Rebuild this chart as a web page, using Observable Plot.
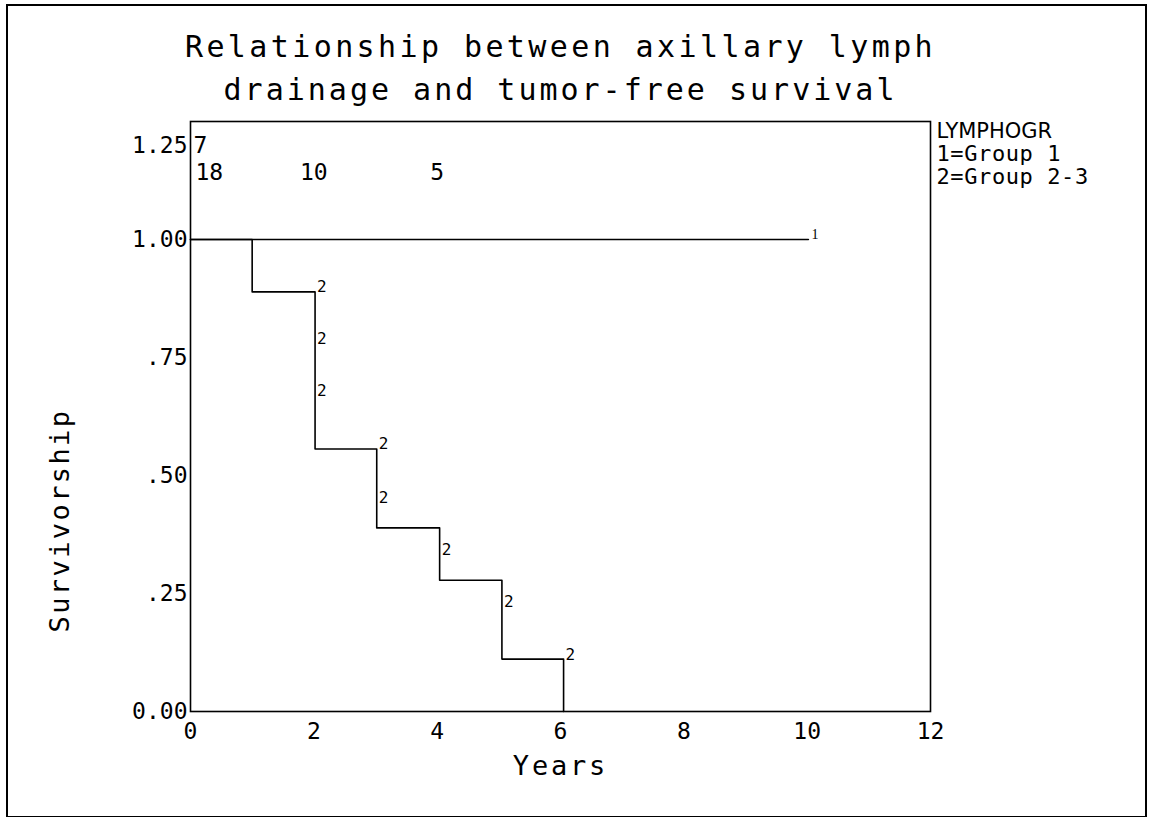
<!DOCTYPE html>
<html>
<head>
<meta charset="utf-8">
<script src="https://cdn.jsdelivr.net/npm/d3@7"></script>
<script src="https://cdn.jsdelivr.net/npm/@observablehq/plot@0.6"></script>
<style>
  html, body { margin: 0; padding: 0; background: #fff; }
  #wrap { position: relative; width: 1150px; height: 818px; overflow: hidden; }
  #outer { position: absolute; left: 6px; top: 4px; width: 1137px; height: 810px; border: 2px solid #000; border-bottom-width: 1px; pointer-events: none; }
  #chart { position: absolute; left: 0; top: 0; }
</style>
</head>
<body>
<div id="wrap">
  <div id="chart"></div>
  <div id="outer"></div>
</div>
<script>
// ---- data ----
const titleLines = ["Relationship between axillary lymph", "drainage and tumor-free survival"];
const xLabel = "Years";
const yLabel = "Survivorship";
const legendTitle = "LYMPHOGR";
const legendLines = ["1=Group 1", "2=Group 2-3"];

const xTickValues = [0, 2, 4, 6, 8, 10, 12];
const yTickValues = [0, 0.25, 0.5, 0.75, 1.0];
const yTickLabels = ["0.00", ".25", ".50", ".75", "1.00"];
const yTopTick = 1.25;
const yTopLabel = "1.25";

// group 1 (never drops)
const group1Times = [0, 10.02];
const group1Surv = [1, 1];
const group1MarkTimes = [10.02];
const group1MarkSurv = [1.0];

// group 2 step curve
const group2Times = [0, 1.0, 2.02, 3.02, 4.04, 5.05, 6.05];
const group2Surv = [1, 0.889, 0.556, 0.389, 0.278, 0.111, 0];
// plotted group symbols "2"
const group2MarkTimes = [2.02, 2.02, 2.02, 3.02, 3.02, 4.04, 5.05, 6.05];
const group2MarkSurv = [0.900, 0.790, 0.680, 0.568, 0.453, 0.343, 0.233, 0.121];

// numbers at risk
const riskTimes = [0, 2, 4];
const riskCounts = ["18", "10", "5"];
const group1Risk = "7";

// ---- build tables ----
const g1 = group1Times.map((t, i) => ({t, s: group1Surv[i]}));
const g2 = group2Times.map((t, i) => ({t, s: group2Surv[i]}));
const m1 = group1MarkTimes.map((t, i) => ({t, s: group1MarkSurv[i], g: "1"}));
const m2 = group2MarkTimes.map((t, i) => ({t, s: group2MarkSurv[i], g: "2"}));
const risk = riskTimes.map((t, i) => ({t, n: riskCounts[i]}));

const mono = "DejaVu Sans Mono";

const chart = Plot.plot({
  width: 1150,
  height: 818,
  marginLeft: 190,
  marginRight: 220,
  marginTop: 121,
  marginBottom: 107,
  style: {fontFamily: mono, fontSize: "23px", background: "transparent", color: "#000", overflow: "visible"},
  x: {domain: [0, 12]},
  y: {domain: [0, 1.25]},
  marks: [
    Plot.frame({stroke: "#000", strokeWidth: 1.6}),
    Plot.axisX(xTickValues, {tickSize: 0, tickPadding: 11, label: null, fontSize: 23}),
    Plot.axisY(yTickValues, {tickSize: 0, tickPadding: 3, label: null, fontSize: 23,
      tickFormat: d => yTickLabels[yTickValues.indexOf(d)]}),
    Plot.text([yTopLabel], {x: 0, y: yTopTick, text: d => d, textAnchor: "end", dx: -3, dy: 24, fontSize: 23}),
    Plot.text([group1Risk], {x: 0, y: yTopTick, text: d => d, textAnchor: "start", dx: 3, dy: 24, fontSize: 23}),
    Plot.text(risk.slice(0, 1), {x: "t", y: yTopTick, text: "n", textAnchor: "start", dx: 5, dy: 51, fontSize: 23}),
    Plot.text(risk.slice(1), {x: "t", y: yTopTick, text: "n", textAnchor: "middle", dx: 0, dy: 51, fontSize: 23}),
    Plot.line(g1, {x: "t", y: "s", curve: "step-after", stroke: "#000", strokeWidth: 1.6}),
    Plot.line(g2, {x: "t", y: "s", curve: "step-after", stroke: "#000", strokeWidth: 1.6}),
    Plot.text(m2, {x: "t", y: "s", text: "g", textAnchor: "start", dx: 2, fontSize: 16, fontFamily: mono}),
    Plot.text(m1, {x: "t", y: "s", text: "g", textAnchor: "start", dx: 3, dy: -5, fontSize: 14, fontFamily: "Liberation Serif", fill: "#000"}),
    // titles and labels
    Plot.text([titleLines[0]], {frameAnchor: "top", text: d => d, textAnchor: "middle", dy: -86, fontSize: 30}),
    Plot.text([titleLines[1]], {frameAnchor: "top", text: d => d, textAnchor: "middle", dy: -43, fontSize: 30}),
    Plot.text([xLabel], {frameAnchor: "bottom", text: d => d, textAnchor: "middle", dy: 63, fontSize: 27}),
    Plot.text([yLabel], {frameAnchor: "left", text: d => d, textAnchor: "middle", rotate: -90, dx: -130, dy: 104, fontSize: 27}),
    Plot.text([legendTitle], {frameAnchor: "top-right", text: d => d, textAnchor: "start", dx: 6, dy: 2, fontSize: 21, fontFamily: "DejaVu Sans"}),
    Plot.text(legendLines.slice(0, 1), {frameAnchor: "top-right", text: d => d, textAnchor: "start", dx: 6, dy: 24, fontSize: 22}),
    Plot.text(legendLines.slice(1), {frameAnchor: "top-right", text: d => d, textAnchor: "start", dx: 6, dy: 47, fontSize: 22})
  ]
});
document.getElementById("chart").appendChild(chart);

// letter spacing tweaks (Plot has no letterSpacing option)
const spacing = new Map([
  [titleLines[0], "3.4px"],
  [titleLines[1], "3.0px"],
  [xLabel, "2.8px"],
  [yLabel, "2.4px"],
  [legendLines[0], "0.6px"],
  [legendLines[1], "0.6px"]
]);
d3.select(chart).selectAll("text").each(function() {
  const ls = spacing.get(this.textContent);
  if (ls) this.style.letterSpacing = ls;
});
</script>
</body>
</html>
